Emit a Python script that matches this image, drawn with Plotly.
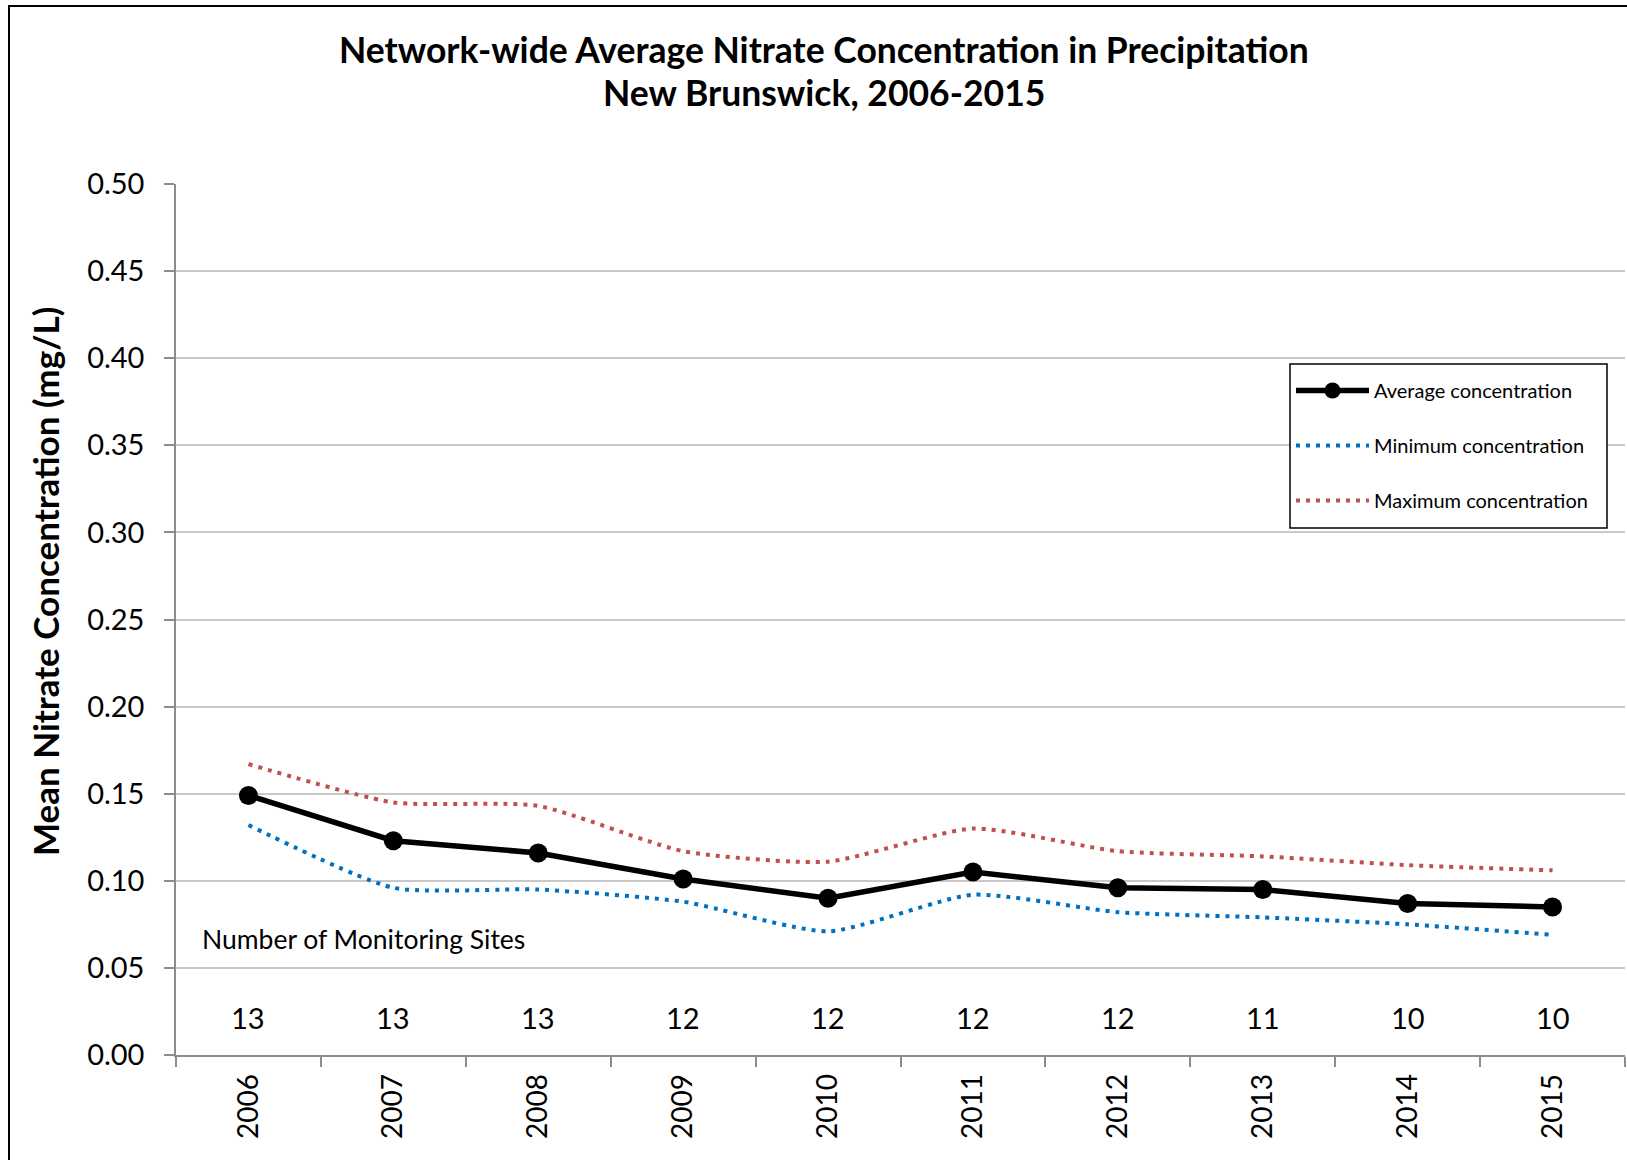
import plotly.graph_objects as go

# Annual network-wide nitrate concentration in precipitation (mg/L)
years = ["2006", "2007", "2008", "2009", "2010", "2011", "2012", "2013", "2014", "2015"]
avg_conc = [0.149, 0.123, 0.116, 0.101, 0.090, 0.105, 0.096, 0.095, 0.087, 0.085]
min_conc = [0.132, 0.096, 0.095, 0.088, 0.071, 0.092, 0.082, 0.079, 0.075, 0.069]
max_conc = [0.167, 0.145, 0.143, 0.117, 0.111, 0.130, 0.117, 0.114, 0.109, 0.106]
site_counts = [13, 13, 13, 12, 12, 12, 12, 11, 10, 10]
y_ticks = [0.00, 0.05, 0.10, 0.15, 0.20, 0.25, 0.30, 0.35, 0.40, 0.45, 0.50]

FONT = "Lato"
W, H = 1627, 1160
ML, MR, MT, MB = 176, 2, 184, 105
PW, PH = W - ML - MR, H - MT - MB


def px_to_paper(px, py):
    """Convert a page pixel position to plot-area paper fractions."""
    return (px - ML) / PW, (H - MB - py) / PH


fig = go.Figure()

fig.add_trace(go.Scatter(
    x=years, y=avg_conc, name="Average concentration", mode="lines+markers",
    line=dict(color="black", width=5.5),
    marker=dict(color="black", size=19),
    legendgroup="a",
))
fig.add_trace(go.Scatter(
    x=years, y=min_conc, name="Minimum concentration", mode="lines",
    line=dict(color="#0070C0", width=4, dash="4px,6px", shape="spline", smoothing=0.6),
    legendgroup="b",
))
fig.add_trace(go.Scatter(
    x=years, y=max_conc, name="Maximum concentration", mode="lines",
    line=dict(color="#C0504D", width=4, dash="4px,6px", shape="spline", smoothing=0.6),
    legendgroup="c",
))

annotations = []
# Site counts written under each year
for i, n in enumerate(site_counts):
    annotations.append(dict(
        x=i, y=0.0214, xref="x", yref="y", text=str(n), showarrow=False,
        font=dict(family=FONT, size=29, color="black"), xanchor="center", yanchor="middle",
    ))
nx, _ = px_to_paper(200, 0)
annotations.append(dict(
    x=nx, y=0.0667, xref="paper", yref="y",
    text="Number of Monitoring Sites", showarrow=False,
    font=dict(family=FONT, size=26.5, color="black"), xanchor="left", yanchor="middle",
))
# Two-line chart title
for text, py in [("<b>Network-wide Average Nitrate Concentration in Precipitation</b>", 49),
                 ("<b>New Brunswick, 2006-2015</b>", 93)]:
    tx, ty = px_to_paper(824, py)
    annotations.append(dict(
        x=tx, y=ty, xref="paper", yref="paper", text=text, showarrow=False,
        font=dict(family=FONT, size=35.5, color="black"), xanchor="center", yanchor="middle",
    ))
# Vertical axis title
ax, ay = px_to_paper(45, 582)
annotations.append(dict(
    x=ax, y=ay, xref="paper", yref="paper", text="<b>Mean Nitrate Concentration (mg/L)</b>",
    textangle=-90, showarrow=False,
    font=dict(family=FONT, size=35, color="black"), xanchor="center", yanchor="middle",
))

# Legend frame and placement
lbx0, lby1 = px_to_paper(1290, 364)
lbx1, lby0 = px_to_paper(1607, 528)
lx, ly = px_to_paper(1291, 371)
bx0, by1 = px_to_paper(9, 6)
bx1, by0 = px_to_paper(W + 20, H + 20)

fig.update_layout(
    width=W, height=H,
    margin=dict(l=ML, r=MR, t=MT, b=MB, pad=0),
    paper_bgcolor="white", plot_bgcolor="white",
    font=dict(family=FONT, color="black"),
    showlegend=True,
    legend=dict(
        x=lx, y=ly, xanchor="left", yanchor="top",
        borderwidth=0, bgcolor="rgba(0,0,0,0)",
        font=dict(family=FONT, size=20, color="black"),
        tracegroupgap=26, itemwidth=73,
    ),
    annotations=annotations,
    shapes=[
        dict(type="rect", xref="paper", yref="paper",
             x0=bx0, x1=bx1, y0=by0, y1=by1,
             line=dict(color="black", width=2), layer="below"),
        dict(type="rect", xref="paper", yref="paper",
             x0=lbx0, x1=lbx1, y0=lby0, y1=lby1,
             line=dict(color="black", width=1.5), fillcolor="white", layer="above"),
    ],
)

fig.update_xaxes(
    type="category", range=[-0.5, 9.5],
    showline=True, linecolor="#8C8C8C", linewidth=1.5,
    ticks="outside", ticklen=10, tickcolor="#8C8C8C", tickwidth=1.5,
    tickson="boundaries", tickangle=-90,
    tickfont=dict(family=FONT, size=28, color="black"),
    showgrid=False, zeroline=False, ticklabelstandoff=6,
)
fig.update_yaxes(
    range=[0, 0.5], tickvals=y_ticks, tickformat=".2f",
    showline=True, linecolor="#8C8C8C", linewidth=1.5,
    ticks="outside", ticklen=10, tickcolor="#8C8C8C", tickwidth=1.5,
    tickfont=dict(family=FONT, size=29, color="black"),
    showgrid=True, gridcolor="#C8C8C8", gridwidth=1.5, zeroline=False,
    ticklabelstandoff=14,
)

fig.write_html("out.html")
